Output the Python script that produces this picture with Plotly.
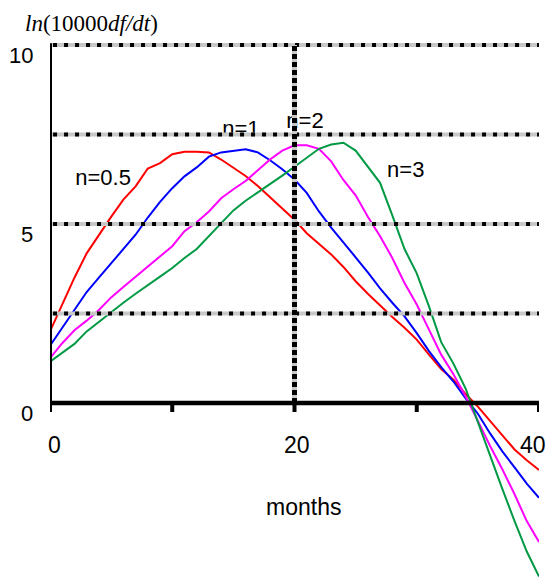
import plotly.graph_objects as go

# ---------------- data ----------------
months = list(range(41))

n05 = [2.0, 2.77, 3.5, 4.18, 4.7, 5.2, 5.68, 6.05, 6.55, 6.7, 6.95, 7.02, 7.02, 7.0, 6.8,
       6.58, 6.34, 6.06, 5.75, 5.42, 5.12, 4.74, 4.45, 4.15, 3.8, 3.4, 3.05, 2.72, 2.4, 2.1,
       1.77, 1.35, 0.95, 0.65, 0.25, -0.1, -0.5, -0.9, -1.3, -1.6, -1.87]
n1 = [1.6, 2.1, 2.6, 3.1, 3.5, 3.9, 4.33, 4.7, 5.18, 5.62, 6.0, 6.33, 6.58, 6.88, 7.0,
      7.05, 7.09, 7.0, 6.78, 6.53, 6.24, 5.87, 5.35, 4.9, 4.5, 4.07, 3.65, 3.2, 2.8, 2.42,
      1.95, 1.45, 1.0, 0.6, 0.13, -0.3, -0.85, -1.35, -1.8, -2.25, -2.65]
n2 = [1.25, 1.67, 2.03, 2.3, 2.6, 2.95, 3.24, 3.53, 3.82, 4.1, 4.38, 4.8, 5.05, 5.35, 5.72,
      5.97, 6.2, 6.5, 6.8, 7.05, 7.2, 7.2, 7.1, 6.75, 6.23, 5.8, 5.2, 4.66, 4.05, 3.35,
      2.75, 2.05, 1.35, 0.8, 0.18, -0.5, -1.2, -1.85, -2.55, -3.3, -3.88]
n3 = [1.15, 1.4, 1.65, 2.0, 2.27, 2.53, 2.8, 3.05, 3.3, 3.53, 3.77, 4.05, 4.3, 4.65, 5.02,
      5.38, 5.65, 5.88, 6.1, 6.35, 6.6, 6.85, 7.1, 7.22, 7.27, 7.05, 6.6, 6.15, 5.24, 4.3,
      3.62, 2.7, 1.7, 1.1, 0.4, -0.55, -1.45, -2.4, -3.3, -4.15, -4.85]

series_names = ["n=0.5", "n=1", "n=2", "n=3"]
series_values = [n05, n1, n2, n3]
series_colors = ["#ff0000", "#0000ff", "#ff00ff", "#009944"]

# curve labels (position in chart units)
label_text = ["n=0.5", "n=1", "n=2", "n=3"]
label_x = [4.34, 15.62, 20.86, 29.1]
label_y = [6.23, 7.60, 7.84, 6.46]

x_ticks = [0, 10, 20, 30, 40]
x_tick_labels = ["0", "", "20", "", "40"]
y_ticks = [0, 2.5, 5, 7.5, 10]
y_tick_labels = ["0", "", "5", "", "10"]
h_grid = [2.5, 5, 7.5, 10]
v_grid = [20]

x_title = "months"
y_title = "<i>ln</i>(10000<i>df/dt</i>)"

# ---------------- figure ----------------
SANS = "Liberation Sans, Arial, sans-serif"
SERIF = "Liberation Serif, Times New Roman, serif"

fig = go.Figure()
for name, vals, col in zip(series_names, series_values, series_colors):
    fig.add_trace(go.Scatter(x=months, y=vals, mode="lines", name=name,
                             line=dict(color=col, width=2), showlegend=False,
                             hoverinfo="skip"))

fig.add_trace(go.Scatter(x=label_x, y=label_y, mode="text", text=label_text,
                         textposition="middle center",
                         textfont=dict(family=SANS, size=22, color="black"),
                         showlegend=False, hoverinfo="skip"))

shapes = []
# horizontal dotted grid lines (grey band with black dots)
for g in h_grid:
    shapes.append(dict(type="line", xref="x", yref="y", x0=0, x1=40, y0=g, y1=g,
                       line=dict(color="#c8c8c8", width=4), layer="above"))
    shapes.append(dict(type="line", xref="x", yref="y", x0=0.25, x1=40, y0=g, y1=g,
                       line=dict(color="black", width=4, dash="4px,7px"), layer="above"))
# vertical dotted line
for g in v_grid:
    shapes.append(dict(type="line", xref="x", yref="y", x0=g, x1=g, y0=0, y1=10,
                       line=dict(color="#c8c8c8", width=5), layer="above"))
    shapes.append(dict(type="line", xref="x", yref="y", x0=g, x1=g, y0=0, y1=10,
                       line=dict(color="black", width=5, dash="5px,3px"), layer="above"))
# axes lines
shapes.append(dict(type="line", xref="x", yref="y", x0=-0.57, x1=40.15, y0=0, y1=0,
                   line=dict(color="black", width=4.5), layer="above"))
shapes.append(dict(type="line", xref="x", yref="y", x0=0, x1=0, y0=-0.2, y1=10.05,
                   line=dict(color="black", width=4), layer="above"))
# ticks
for t in y_ticks:
    shapes.append(dict(type="line", xref="x", yref="y", xsizemode="pixel", xanchor=0,
                       x0=-7, x1=0, y0=t, y1=t,
                       line=dict(color="black", width=4), layer="above"))
for t in x_ticks:
    shapes.append(dict(type="line", xref="x", yref="y", ysizemode="pixel", yanchor=0,
                       x0=t, x1=t, y0=-9, y1=0,
                       line=dict(color="black", width=4), layer="above"))

annotations = []
for t, lab in zip(y_ticks, y_tick_labels):
    if lab:
        annotations.append(dict(x=0, y=t, xref="x", yref="y", text=lab, showarrow=False,
                                xanchor="right", yanchor="middle", xshift=-15, yshift=-11,
                                font=dict(family=SANS, size=22, color="black")))
x_label_shift = {0: 4, 20: 2, 40: -6}
for t, lab in zip(x_ticks, x_tick_labels):
    if lab:
        annotations.append(dict(x=t, y=0, xref="x", yref="y", text=lab, showarrow=False,
                                xanchor="center", yanchor="middle",
                                xshift=x_label_shift.get(t, 0), yshift=-42,
                                font=dict(family=SANS, size=23, color="black")))
annotations.append(dict(x=20.7, y=-2.905, xref="x", yref="y", text=x_title, showarrow=False,
                        xanchor="center", yanchor="middle",
                        font=dict(family=SANS, size=23, color="black")))
# y title sits above the plotting area -> paper coordinates
annotations.append(dict(x=0.085, y=1.0203, xref="paper", yref="paper", text=y_title,
                        showarrow=False, xanchor="center", yanchor="middle",
                        font=dict(family=SERIF, size=23, color="black")))

fig.update_layout(
    width=555, height=578,
    margin=dict(l=50, r=16, t=35, b=0, pad=0),
    paper_bgcolor="white", plot_bgcolor="white",
    xaxis=dict(range=[0, 40], visible=False, fixedrange=True),
    yaxis=dict(range=[-4.889, 10.279], visible=False, fixedrange=True),
    shapes=shapes, annotations=annotations,
    showlegend=False,
)

fig.write_html("out.html", config={"displayModeBar": False})
